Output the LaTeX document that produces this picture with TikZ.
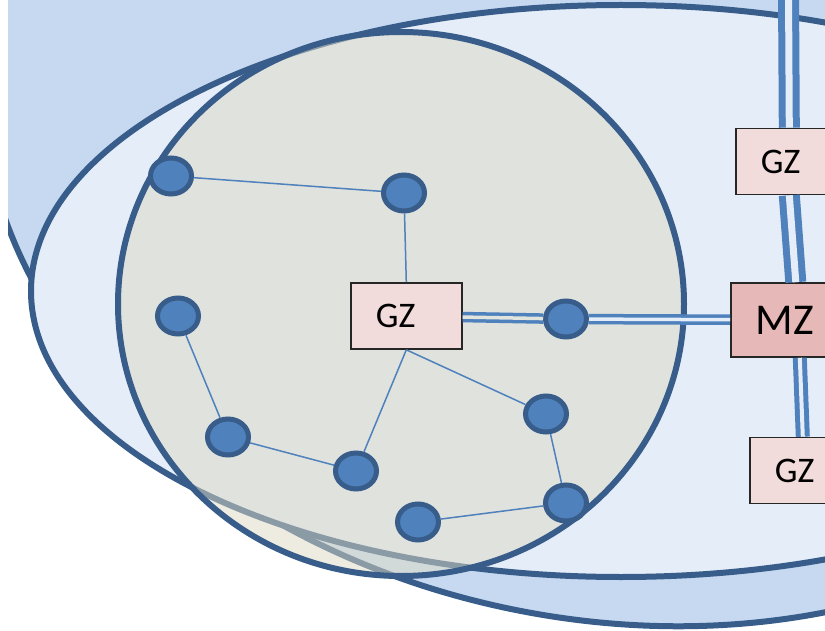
\documentclass[tikz,border=0pt]{standalone}
\usepackage{fontspec}
\setmainfont{Carlito}
\usetikzlibrary{shapes.geometric}
\definecolor{zoneline}{HTML}{385D8A}
\definecolor{nodeblue}{HTML}{4F81BD}
\definecolor{outerfill}{HTML}{C6D9F1}
\definecolor{innerfill}{HTML}{E5EDF8}
\definecolor{clusterfill}{HTML}{DDD9C3}
\definecolor{clustergap}{HTML}{E1E3DD}
\definecolor{gzfill}{HTML}{F2DCDB}
\definecolor{mzfill}{HTML}{E6B9B8}
\definecolor{boxline}{HTML}{262626}
\begin{document}
\begin{tikzpicture}[x=1pt,y=-1pt,
                zone/.style = {draw=zoneline, line width=6pt},
                main/.style = {ellipse, draw=zoneline, fill=nodeblue, line width=5pt, minimum width=41pt, minimum height=36pt, inner sep=0pt},
                gz/.style = {draw=boxline, fill=gzfill, line width=1.6pt, text width=61pt, align=left, inner xsep=25pt, inner ysep=0pt, minimum height=66pt, anchor=west, font=\fontsize{36}{40}\selectfont},
                mz/.style = {gz, fill=mzfill, text width=80pt, minimum height=74pt, font=\fontsize{44}{48}\selectfont},
                link/.style = {draw=nodeblue, line width=1.5pt},
                trunk/.style = {draw=nodeblue, line width=3.5pt, double=innerfill, double distance=3.5pt},
                wide/.style = {trunk, line width=7pt, double distance=7pt}]
                \useasboundingbox (0,0) rectangle (825,631);
                \clip (8,0) rectangle (825,631);
                \draw[zone, fill=outerfill, shift={(616.5,129.4)}, rotate=-10.6] (0,0) ellipse [x radius=640, y radius=491];
                \draw[zone, fill=innerfill] (621,291) ellipse [x radius=590, y radius=286];
                \draw[zone, fill=clusterfill, fill opacity=0.5] (401,304) ellipse [x radius=283, y radius=272];
                \node[main] (1) at (171,176) {};
                \node[main] (2) at (404,193) {};
                \node[main] (3) at (178,316) {};
                \node[main] (4) at (566,319) {};
                \node[main] (5) at (228,437) {};
                \node[main] (6) at (356,471) {};
                \node[main] (7) at (546,414) {};
                \node[main] (8) at (566,503) {};
                \node[main] (9) at (418,522) {};
                \node[gz] (gz1) at (350,316) {GZ};
                \node[gz] (gz2) at (735,161.5) {GZ};
                \node[gz] (gz3) at (749,470.5) {GZ};
                \node[mz] (mz) at (730,320) {MZ};
                \coordinate (top) at (788.5,-10);
                \path[link]
                    (1) edge (2)
                    (2) edge (gz1.north)
                    (gz1.south) edge (6)
                    (gz1.south) edge (7)
                    (3) edge (5)
                    (5) edge (6)
                    (7) edge (8)
                    (8) edge (9);
                \path
                    (gz1) edge[trunk, double=clustergap] (4)
                    (4) edge[trunk] (mz)
                    ([xshift=-2pt]gz2.north) edge[wide] (top)
                    ([xshift=-2pt]gz2.south) edge[wide] (mz.north)
                    ([xshift=4pt]mz.south) edge[trunk, line width=5pt, double distance=4pt] ([xshift=-2.5pt]gz3.north);
            \end{tikzpicture}
\end{document}
